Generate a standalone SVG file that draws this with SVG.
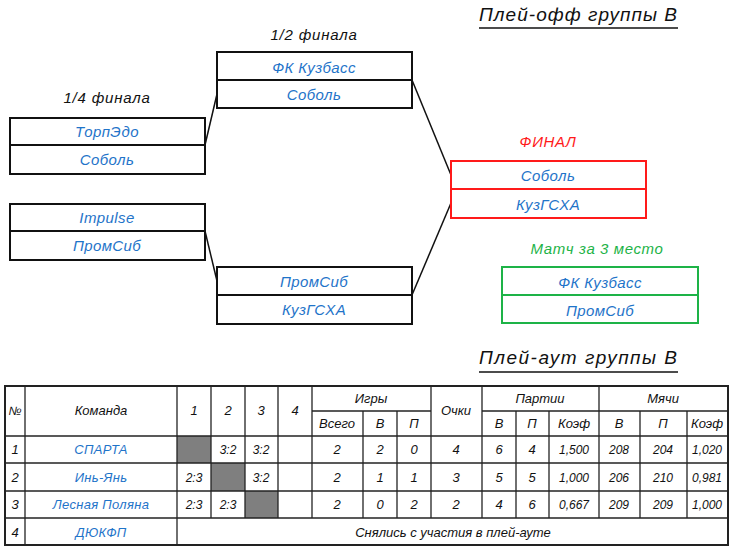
<svg xmlns="http://www.w3.org/2000/svg" width="750" height="550" viewBox="0 0 750 550">
<style>
text{font-family:"Liberation Sans","DejaVu Sans",sans-serif;font-style:italic;text-anchor:middle}
.team{fill:#1f74c9;font-size:15px;letter-spacing:0.4px}
.hdr{fill:#111;font-size:15px;letter-spacing:0.8px}
.title{fill:#111;font-size:19px;text-anchor:start}
.box{fill:#fff;stroke:#111;stroke-width:2}
.div{stroke:#111;stroke-width:2}
.conn{stroke:#111;stroke-width:1.5;fill:none}
.tb{fill:#111;font-size:13px}
.nm{fill:#111;font-size:12px}
.tt{fill:#1f74c9;font-size:13px;letter-spacing:0.3px}
.sc{fill:#111;font-size:12px}
.grid{stroke:#222;stroke-width:1.3}
.gray{fill:#7f7f7f}
</style>
<rect width="750" height="550" fill="#fff"/>

<text class="title" x="479" y="21" textLength="198" lengthAdjust="spacing">Плей-офф группы В</text>
<line x1="479" y1="28" x2="678" y2="28" stroke="#111" stroke-width="1.3"/>

<text class="hdr" x="107" y="103">1/4 финала</text>
<text class="hdr" x="314" y="40">1/2 финала</text>
<text x="548" y="147" style="fill:#ff1a1a;font-size:15px;letter-spacing:0.6px">ФИНАЛ</text>
<text x="597" y="254" style="fill:#1db347;font-size:15px;letter-spacing:0.6px">Матч за 3 место</text>

<g id="connectors">
<line class="conn" x1="205" y1="145" x2="217" y2="94"/>
<line class="conn" x1="205" y1="231" x2="217" y2="281"/>
<line class="conn" x1="412" y1="80" x2="451" y2="175"/>
<line class="conn" x1="412" y1="295" x2="451" y2="203"/>
</g>

<g id="qf1">
<rect class="box" x="10" y="118" width="195" height="56"/>
<line class="div" x1="10" y1="145" x2="205" y2="145"/>
<text class="team" x="107" y="137">ТорпЭдо</text>
<text class="team" x="107" y="165">Соболь</text>
</g>
<g id="qf2">
<rect class="box" x="10" y="204" width="195" height="56"/>
<line class="div" x1="10" y1="231" x2="205" y2="231"/>
<text class="team" x="107" y="223">Impulse</text>
<text class="team" x="107" y="251">ПромСиб</text>
</g>
<g id="sf1">
<rect class="box" x="217" y="52" width="195" height="56"/>
<line class="div" x1="217" y1="80" x2="412" y2="80"/>
<text class="team" x="314" y="73">ФК Кузбасс</text>
<text class="team" x="314" y="100">Соболь</text>
</g>
<g id="sf2">
<rect class="box" x="217" y="267" width="195" height="57"/>
<line class="div" x1="217" y1="295" x2="412" y2="295"/>
<text class="team" x="314" y="287">ПромСиб</text>
<text class="team" x="314" y="315">КузГСХА</text>
</g>
<g id="final">
<rect x="451" y="161" width="195" height="57" fill="#fff" stroke="#ff1a1a" stroke-width="2"/>
<line x1="451" y1="189" x2="646" y2="189" stroke="#ff1a1a" stroke-width="2"/>
<text class="team" x="548" y="181">Соболь</text>
<text class="team" x="548" y="210">КузГСХА</text>
</g>
<g id="third">
<rect x="502" y="267" width="196" height="56" fill="#fff" stroke="#1db347" stroke-width="2"/>
<line x1="502" y1="295" x2="698" y2="295" stroke="#1db347" stroke-width="2"/>
<text class="team" x="600" y="288">ФК Кузбасс</text>
<text class="team" x="600" y="316">ПромСиб</text>
</g>

<text class="title" x="479" y="364" textLength="198" lengthAdjust="spacing">Плей-аут группы В</text>
<line x1="479" y1="372" x2="678" y2="372" stroke="#111" stroke-width="1.3"/>

<g id="table">
<rect class="gray" x="177" y="436" width="34" height="27"/>
<rect class="gray" x="211" y="463" width="34" height="28"/>
<rect class="gray" x="245" y="491" width="33" height="27"/>
<g class="grid">
<line x1="5" y1="436" x2="728" y2="436"/>
<line x1="5" y1="463" x2="728" y2="463"/>
<line x1="5" y1="491" x2="728" y2="491"/>
<line x1="5" y1="518" x2="728" y2="518"/>
<line x1="312" y1="411" x2="431" y2="411"/>
<line x1="482" y1="411" x2="728" y2="411"/>
<line x1="25" y1="386" x2="25" y2="545"/>
<line x1="177" y1="386" x2="177" y2="545"/>
<line x1="211" y1="386" x2="211" y2="518"/>
<line x1="245" y1="386" x2="245" y2="518"/>
<line x1="278" y1="386" x2="278" y2="518"/>
<line x1="312" y1="386" x2="312" y2="518"/>
<line x1="363" y1="411" x2="363" y2="518"/>
<line x1="397" y1="411" x2="397" y2="518"/>
<line x1="431" y1="386" x2="431" y2="518"/>
<line x1="482" y1="386" x2="482" y2="518"/>
<line x1="516" y1="411" x2="516" y2="518"/>
<line x1="549" y1="411" x2="549" y2="518"/>
<line x1="599" y1="386" x2="599" y2="518"/>
<line x1="640" y1="411" x2="640" y2="518"/>
<line x1="687" y1="411" x2="687" y2="518"/>
</g>
<rect x="5" y="386" width="723" height="159" fill="none" stroke="#222" stroke-width="2"/>

<text class="tb" x="15" y="415" style="font-size:12px">№</text>
<text class="tb" x="101" y="415">Команда</text>
<text class="tb" x="194" y="415">1</text>
<text class="tb" x="228" y="415">2</text>
<text class="tb" x="261" y="415">3</text>
<text class="tb" x="295" y="415">4</text>
<text class="tb" x="371" y="403">Игры</text>
<text class="tb" x="337" y="428">Всего</text>
<text class="tb" x="380" y="428">В</text>
<text class="tb" x="414" y="428">П</text>
<text class="tb" x="456" y="415">Очки</text>
<text class="tb" x="540" y="403">Партии</text>
<text class="tb" x="499" y="428">В</text>
<text class="tb" x="532" y="428">П</text>
<text class="tb" x="574" y="428">Коэф</text>
<text class="tb" x="663" y="403">Мячи</text>
<text class="tb" x="619" y="428">В</text>
<text class="tb" x="663" y="428">П</text>
<text class="tb" x="707" y="428">Коэф</text>

<text class="tb" x="15" y="454">1</text>
<text class="tt" x="101" y="454">СПАРТА</text>
<text class="sc" x="228" y="454">3:2</text>
<text class="sc" x="261" y="454">3:2</text>
<text class="tb" x="337" y="454">2</text>
<text class="tb" x="380" y="454">2</text>
<text class="tb" x="414" y="454">0</text>
<text class="tb" x="456" y="454">4</text>
<text class="tb" x="499" y="454">6</text>
<text class="tb" x="532" y="454">4</text>
<text class="nm" x="574" y="454">1,500</text>
<text class="nm" x="619" y="454">208</text>
<text class="nm" x="663" y="454">204</text>
<text class="nm" x="707" y="454">1,020</text>

<text class="tb" x="15" y="482">2</text>
<text class="tt" x="101" y="482">Инь-Янь</text>
<text class="sc" x="194" y="482">2:3</text>
<text class="sc" x="261" y="482">3:2</text>
<text class="tb" x="337" y="482">2</text>
<text class="tb" x="380" y="482">1</text>
<text class="tb" x="414" y="482">1</text>
<text class="tb" x="456" y="482">3</text>
<text class="tb" x="499" y="482">5</text>
<text class="tb" x="532" y="482">5</text>
<text class="nm" x="574" y="482">1,000</text>
<text class="nm" x="619" y="482">206</text>
<text class="nm" x="663" y="482">210</text>
<text class="nm" x="707" y="482">0,981</text>

<text class="tb" x="15" y="509">3</text>
<text class="tt" x="101" y="509">Лесная Поляна</text>
<text class="sc" x="194" y="509">2:3</text>
<text class="sc" x="228" y="509">2:3</text>
<text class="tb" x="337" y="509">2</text>
<text class="tb" x="380" y="509">0</text>
<text class="tb" x="414" y="509">2</text>
<text class="tb" x="456" y="509">2</text>
<text class="tb" x="499" y="509">4</text>
<text class="tb" x="532" y="509">6</text>
<text class="nm" x="574" y="509">0,667</text>
<text class="nm" x="619" y="509">209</text>
<text class="nm" x="663" y="509">209</text>
<text class="nm" x="707" y="509">1,000</text>

<text class="tb" x="15" y="537">4</text>
<text class="tt" x="101" y="537">ДЮКФП</text>
<text class="tb" x="453" y="537">Снялись с участия в плей-ауте</text>
</g>
</svg>
